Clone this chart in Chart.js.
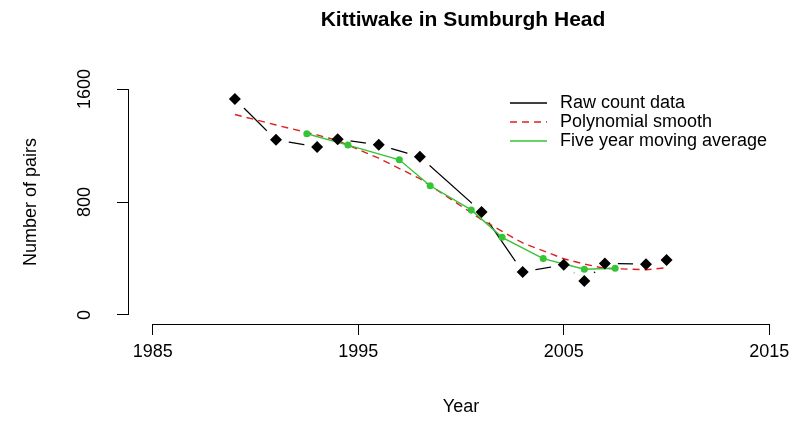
<!DOCTYPE html>
<html>
<head>
<meta charset="utf-8">
<script src="https://cdn.jsdelivr.net/npm/chart.js@4.4.1/dist/chart.umd.min.js"></script>
<style>
  body { margin: 0; background: #fff; overflow: hidden; font-family: "Liberation Sans", Arial, sans-serif; }
  #wrap { position: relative; width: 807px; height: 448px; }
  #title { position: absolute; left: 0; width: 926px; top: 7px; line-height: 24px; text-align: center; font-weight: bold; font-size: 21px; color: #000; }
  #legend { position: absolute; left: 510px; top: 93px; font-size: 18px; color: #000; }
  .row { display: flex; align-items: center; height: 19px; white-space: nowrap; }
  .row svg { margin-right: 13px; }
</style>
</head>
<body>
<div id="wrap">
  <canvas id="myChart"></canvas>
  <div id="title">Kittiwake in Sumburgh Head</div>
  <div id="legend"></div>
</div>
<script>
// raw counts
let rawYears = [1989, 1991, 1993, 1994, 1996, 1998, 2001, 2003, 2005, 2006, 2007, 2009, 2010];
let rawPairs = [1530, 1240, 1190, 1245, 1205, 1120, 730, 305, 355, 240, 365, 360, 390];
// polynomial smooth, read at the raw years
let polyPairs = [1420, 1345, 1275, 1235, 1110, 965, 675, 510, 398, 360, 330, 320, 335];
// five year moving average
let avgYears = [1992.5, 1994.5, 1997, 1998.5, 2000.5, 2002, 2004, 2006, 2007.5];
let avgPairs = [1283, 1203, 1099, 915, 744, 550, 399, 324, 331];

let xTicks = [1985, 1995, 2005, 2015];
let yTicks = [0, 800, 1600];

let seriesNames = ["Raw count data", "Polynomial smooth", "Five year moving average"];
let seriesColors = ["#000000", "#e02020", "#35c435"];
let seriesDash = [[], [7, 5], []];

function xy(xs, ys) {
  return xs.map((x, i) => ({ x: x, y: ys[i] }));
}

// legend
let legend = document.getElementById("legend");
seriesNames.forEach((name, i) => {
  legend.innerHTML += `<div class="row">
    <svg width="37" height="4"><line x1="0" y1="2" x2="37" y2="2" stroke="${seriesColors[i]}"
      stroke-width="1.5" stroke-dasharray="${seriesDash[i].join(" ")}"/></svg>${name}</div>`;
});

// R style axis lines that only run from first to last tick
const axisLines = {
  id: "axisLines",
  beforeDatasetsDraw(chart) {
    const ctx = chart.ctx;
    const xs = chart.scales.x;
    const ys = chart.scales.y;
    const bx = Math.round(ys.right) + 0.5;
    const by = Math.round(xs.top) + 0.5;
    ctx.save();
    ctx.strokeStyle = "#000";
    ctx.lineWidth = 1;
    ctx.beginPath();
    ctx.moveTo(xs.getPixelForValue(xTicks[0]), by);
    ctx.lineTo(xs.getPixelForValue(xTicks[xTicks.length - 1]), by);
    ctx.moveTo(bx, ys.getPixelForValue(yTicks[0]));
    ctx.lineTo(bx, ys.getPixelForValue(yTicks[yTicks.length - 1]));
    ctx.stroke();
    ctx.restore();
  }
};

Chart.defaults.font.family = "'Liberation Sans', Arial, sans-serif";
Chart.defaults.font.size = 18;
Chart.defaults.color = "#000";

new Chart(document.getElementById("myChart"), {
  type: "scatter",
  data: {
    datasets: [
      {
        // line with white gaps round the points, like type = "b"
        data: xy(rawYears, rawPairs),
        showLine: true,
        borderColor: seriesColors[0],
        borderWidth: 1.3,
        pointRadius: 13,
        pointHoverRadius: 13,
        pointBackgroundColor: "#fff",
        pointBorderWidth: 0,
        order: 4
      },
      {
        data: xy(rawYears, polyPairs),
        showLine: true,
        borderColor: seriesColors[1],
        borderWidth: 1.4,
        borderDash: seriesDash[1],
        pointRadius: 0,
        order: 3
      },
      {
        data: xy(avgYears, avgPairs),
        showLine: true,
        borderColor: seriesColors[2],
        borderWidth: 1.4,
        pointRadius: 3.5,
        pointBackgroundColor: seriesColors[2],
        pointBorderWidth: 0,
        order: 2
      },
      {
        data: xy(rawYears, rawPairs),
        showLine: false,
        pointStyle: "rectRot",
        pointRadius: 6,
        pointBackgroundColor: "#000",
        pointBorderWidth: 0,
        order: 1
      }
    ]
  },
  options: {
    responsive: true,
    maintainAspectRatio: false,
    animation: false,
    events: [],
    layout: { padding: { top: 80, right: 8, left: 0, bottom: 0 } },
    plugins: { legend: { display: false }, tooltip: { enabled: false } },
    scales: {
      x: {
        type: "linear",
        min: 1983.8,
        max: 2016.2,
        border: { display: false },
        grid: { drawOnChartArea: false, tickLength: 11, color: "#000" },
        ticks: { padding: 6, maxRotation: 0, autoSkip: false, callback: v => String(v) },
        afterBuildTicks: s => { s.ticks = xTicks.map(v => ({ value: v })); },
        afterFit: s => { s.height = 124; },
        title: { display: true, text: "Year", padding: { top: 0, bottom: 30 } }
      },
      y: {
        min: -64,
        max: 1664,
        border: { display: false },
        grid: { drawOnChartArea: false, tickLength: 11, color: "#000" },
        ticks: { padding: 12, minRotation: 90, maxRotation: 90, crossAlign: "center", callback: v => String(v) },
        afterBuildTicks: s => { s.ticks = yTicks.map(v => ({ value: v })); },
        afterFit: s => { s.width = 128; },
        title: { display: true, text: "Number of pairs", padding: { top: 20, bottom: 0 } }
      }
    }
  },
  plugins: [axisLines]
});
</script>
</body>
</html>
